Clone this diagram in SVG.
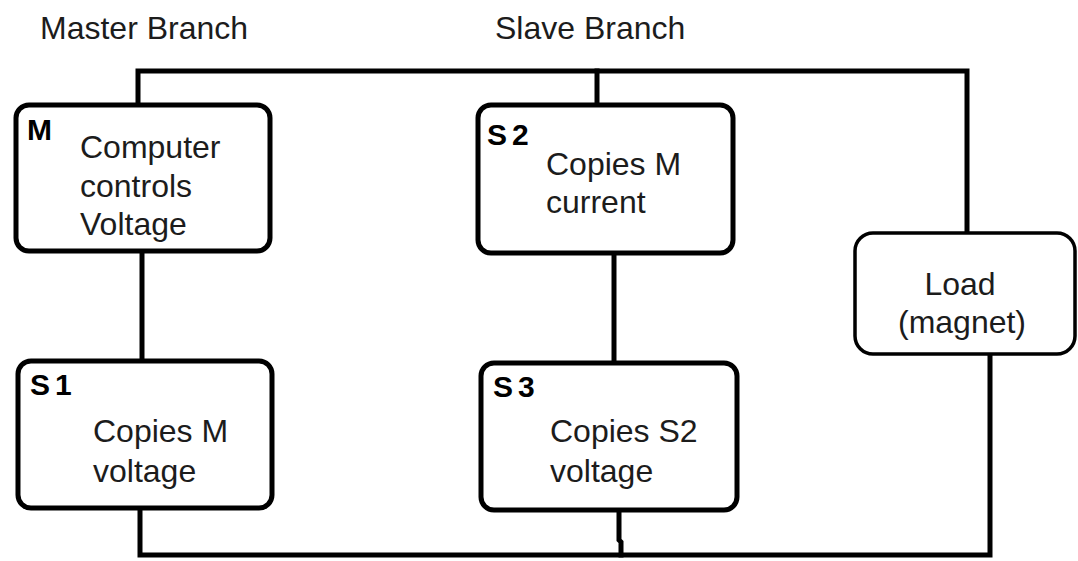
<svg xmlns="http://www.w3.org/2000/svg" width="1078" height="561" viewBox="0 0 1078 561">
<style>
.box{fill:#fff;stroke:#000;stroke-width:5}
.load{fill:#fff;stroke:#000;stroke-width:3.5}
.wire{fill:none;stroke:#000;stroke-width:5;stroke-linecap:square;stroke-linejoin:miter}
.t{font-family:"Liberation Sans",Arial,sans-serif;font-size:32px;fill:#1c1c1c}
.lbl{font-family:"Liberation Sans",Arial,sans-serif;font-size:30px;font-weight:bold;fill:#000}
</style>
<rect width="1078" height="561" fill="#fff"/>
<g id="headers">
<text class="t" x="40" y="39">Master Branch</text>
<text class="t" x="495" y="39">Slave Branch</text>
</g>
<g id="connectors">
<polyline class="wire" points="138,105 138,71 967,71 967,233"/>
<line class="wire" x1="597" y1="71" x2="597" y2="105"/>
<line class="wire" x1="142" y1="251" x2="142" y2="361"/>
<line class="wire" x1="614" y1="253" x2="614" y2="363"/>
<polyline class="wire" points="140,508 140,555 990,555 990,348"/>
<polyline class="wire" points="619,510 619,540 621,542 621,555"/>
</g>
<g id="M">
<rect class="box" x="16" y="105" width="254" height="146" rx="13"/>
<text class="lbl" x="27" y="140">M</text>
<text class="t" x="80" y="158">Computer</text>
<text class="t" x="80" y="197">controls</text>
<text class="t" x="80" y="235">Voltage</text>
</g>
<g id="S2">
<rect class="box" x="478" y="105" width="255" height="148" rx="13"/>
<text class="lbl" x="487" y="145" letter-spacing="5">S2</text>
<text class="t" x="546" y="175">Copies M</text>
<text class="t" x="546" y="213">current</text>
</g>
<g id="S1">
<rect class="box" x="18" y="361" width="254" height="147" rx="13"/>
<text class="lbl" x="30" y="395" letter-spacing="5">S1</text>
<text class="t" x="93" y="442">Copies M</text>
<text class="t" x="93" y="482">voltage</text>
</g>
<g id="S3">
<rect class="box" x="481" y="363" width="256" height="147" rx="13"/>
<text class="lbl" x="493" y="397" letter-spacing="5">S3</text>
<text class="t" x="550" y="442">Copies S2</text>
<text class="t" x="550" y="482">voltage</text>
</g>
<g id="Load">
<rect class="load" x="855" y="233" width="220" height="121" rx="18"/>
<text class="t" x="960" y="295" text-anchor="middle">Load</text>
<text class="t" x="962" y="333" text-anchor="middle">(magnet)</text>
</g>
</svg>
